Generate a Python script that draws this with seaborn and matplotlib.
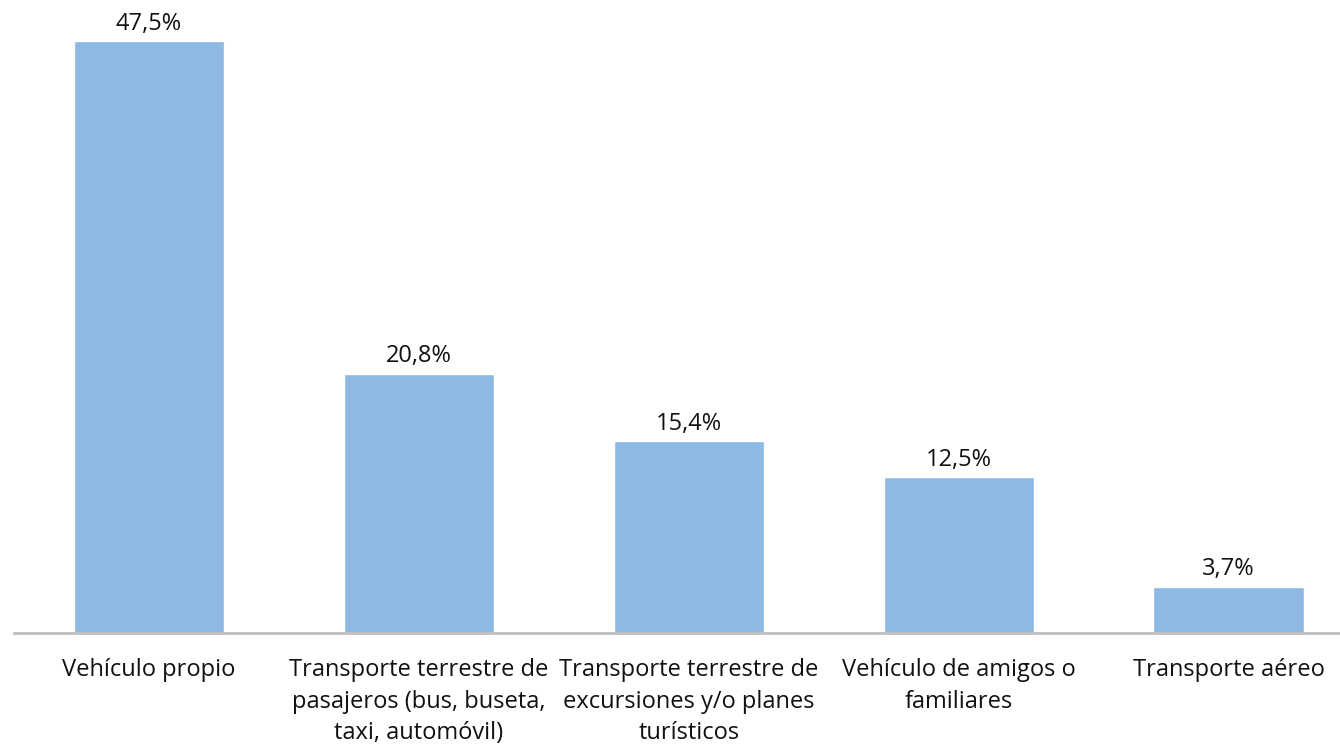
import matplotlib.pyplot as plt
import seaborn as sns
import pandas as pd

plt.switch_backend('Agg')

categories = [
    "Vehículo propio",
    "Transporte terrestre de\npasajeros (bus, buseta,\ntaxi, automóvil)",
    "Transporte terrestre de\nexcursiones y/o planes\nturísticos",
    "Vehículo de amigos o\nfamiliares",
    "Transporte aéreo",
]
values = [47.5, 20.8, 15.4, 12.5, 3.7]
value_labels = ["47,5%", "20,8%", "15,4%", "12,5%", "3,7%"]

df = pd.DataFrame({"cat": categories, "val": values})

sns.set_theme(style="white")
plt.rcParams['font.family'] = ['Open Sans', 'DejaVu Sans']

fig = plt.figure(figsize=(13.4, 7.47), dpi=100)
ax = fig.add_axes([0.0105, 0.1526, 1.007, 0.834])

sns.barplot(data=df, x="cat", y="val", color="#8DB9E2", saturation=1,
            width=0.556, ax=ax)

ax.set_ylim(0, 50)
ax.set_xlim(-0.5, 4.5)
ax.set_xlabel("")
ax.set_ylabel("")
ax.set_yticks([])
for side in ["top", "right", "left"]:
    ax.spines[side].set_visible(False)
ax.spines["bottom"].set_color("#BFBFBF")
ax.spines["bottom"].set_linewidth(2)

ax.tick_params(axis="x", length=0, pad=18)
ax.set_xticks(range(len(categories)))
ax.set_xticklabels(categories, fontsize=17, color="#111111", linespacing=1.43)

for i, (v, lab) in enumerate(zip(values, value_labels)):
    ax.annotate(lab, (i, v), xytext=(0, 4), textcoords="offset points",
                ha="center", va="bottom", fontsize=17, color="#111111")

fig.savefig("out.png", dpi=100)
plt.close(fig)
